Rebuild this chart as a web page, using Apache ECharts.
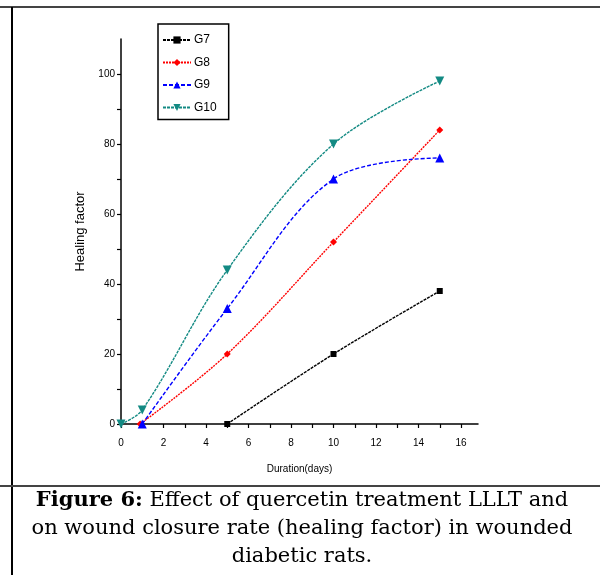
<!DOCTYPE html>
<html>
<head>
<meta charset="utf-8">
<script src="https://cdn.jsdelivr.net/npm/echarts@6/dist/echarts.min.js"></script>
<style>
  html, body { margin: 0; padding: 0; background: #fff; }
  #chart { width: 600px; height: 575px; }
</style>
</head>
<body>
<div id="chart"></div>
<script>
// data (duration in days vs healing factor)
const g7Days = [5, 10, 15];
const g7Values = [0, 20, 38];
const g8Days = [0.9, 5, 10, 15];
const g8Values = [0, 20, 52, 84];
const g9Days = [1, 5, 10, 15];
const g9Values = [0, 33, 70, 76];
const g10Days = [0, 1, 5, 10, 15];
const g10Values = [0, 4, 44, 80, 98];

const seriesNames = ["G7", "G8", "G9", "G10"];
const xLabelStep = 2;
const yLabelStep = 20;

const toPairs = (xs, ys) => xs.map((x, i) => [x, ys[i]]);

const chart = echarts.init(document.getElementById("chart"));

// one line series, Origin style
const createSeries = (name, data, color, symbol, size, dash) => ({
  name,
  type: "line",
  data,
  smooth: 0.35,
  symbol,
  symbolSize: size,
  showSymbol: true,
  color,
  lineStyle: {width: 1.4, type: dash, color},
  itemStyle: {color},
  z: 3,
});

const axisText = {color: "#000", fontFamily: "Liberation Sans, Arial", fontSize: 10};

const option = {
  animation: false,
  backgroundColor: "#fff",
  grid: {left: 121, top: 39, width: 357, height: 385, containLabel: false},
  legend: {
    orient: "vertical",
    left: 158,
    top: 24,
    padding: [10, 12, 6, 4],
    itemGap: 10.5,
    itemWidth: 28,
    itemHeight: 9,
    borderColor: "#000",
    borderWidth: 1.5,
    textStyle: {color: "#000", fontFamily: "Liberation Sans, Arial", fontSize: 12, padding: [0, 0, 0, -2]},
    data: seriesNames,
  },
  xAxis: {
    type: "value",
    min: 0,
    max: 16.8,
    interval: 1,
    name: "Duration(days)",
    nameLocation: "middle",
    nameGap: 40,
    nameTextStyle: {color: "#000", fontFamily: "Liberation Sans, Arial", fontSize: 10},
    axisLine: {lineStyle: {color: "#000", width: 1.5}},
    axisTick: {lineStyle: {color: "#000", width: 1.2}, length: 4},
    axisLabel: {
      ...axisText,
      margin: 14,
      showMaxLabel: false,
      formatter: (v) => (v % xLabelStep === 0 ? String(v) : ""),
    },
    splitLine: {show: false},
  },
  yAxis: {
    type: "value",
    min: 0,
    max: 110,
    interval: 10,
    name: "Healing factor",
    nameLocation: "middle",
    nameGap: 32,
    nameTextStyle: {color: "#000", fontFamily: "Liberation Sans, Arial", fontSize: 13},
    axisLine: {show: true, lineStyle: {color: "#000", width: 1.5}},
    axisTick: {show: true, lineStyle: {color: "#000", width: 1.2}, length: 4},
    axisLabel: {
      ...axisText,
      margin: 6,
      showMaxLabel: false,
      formatter: (v) => (v % yLabelStep === 0 ? String(v) : ""),
    },
    splitLine: {show: false},
  },
  series: [
    createSeries("G7", toPairs(g7Days, g7Values), "#000000", "rect", 6, [3, 1]),
    createSeries("G8", toPairs(g8Days, g8Values), "#ff0000", "diamond", 7, [2, 1]),
    createSeries("G9", toPairs(g9Days, g9Values), "#0000ff", "triangle", 9, [4, 2]),
    createSeries("G10", toPairs(g10Days, g10Values), "#138a83", "path://M0,0 L10,0 L5,10 Z", 9, [3, 1]),
  ],
  graphic: [
    // table borders
    {type: "line", shape: {x1: 0, y1: 7, x2: 600, y2: 7}, style: {stroke: "#444", lineWidth: 2}},
    {type: "line", shape: {x1: 12, y1: 7, x2: 12, y2: 575}, style: {stroke: "#000", lineWidth: 2}},
    {type: "line", shape: {x1: 0, y1: 486, x2: 600, y2: 486}, style: {stroke: "#444", lineWidth: 2}},
    // caption
    {
      type: "text",
      x: 302,
      y: 487,
      style: {
        text: "{b|Figure 6:} Effect of quercetin treatment LLLT and\non wound closure rate (healing factor) in wounded\ndiabetic rats.",
        align: "center",
        verticalAlign: "top",
        fill: "#000",
        font: "21px 'DejaVu Serif', serif",
        lineHeight: 28,
        rich: {
          b: {fontWeight: "bold", fontFamily: "DejaVu Serif", fontSize: 21, fill: "#000", lineHeight: 28},
        },
      },
    },
  ],
};

chart.setOption(option);
</script>
</body>
</html>
